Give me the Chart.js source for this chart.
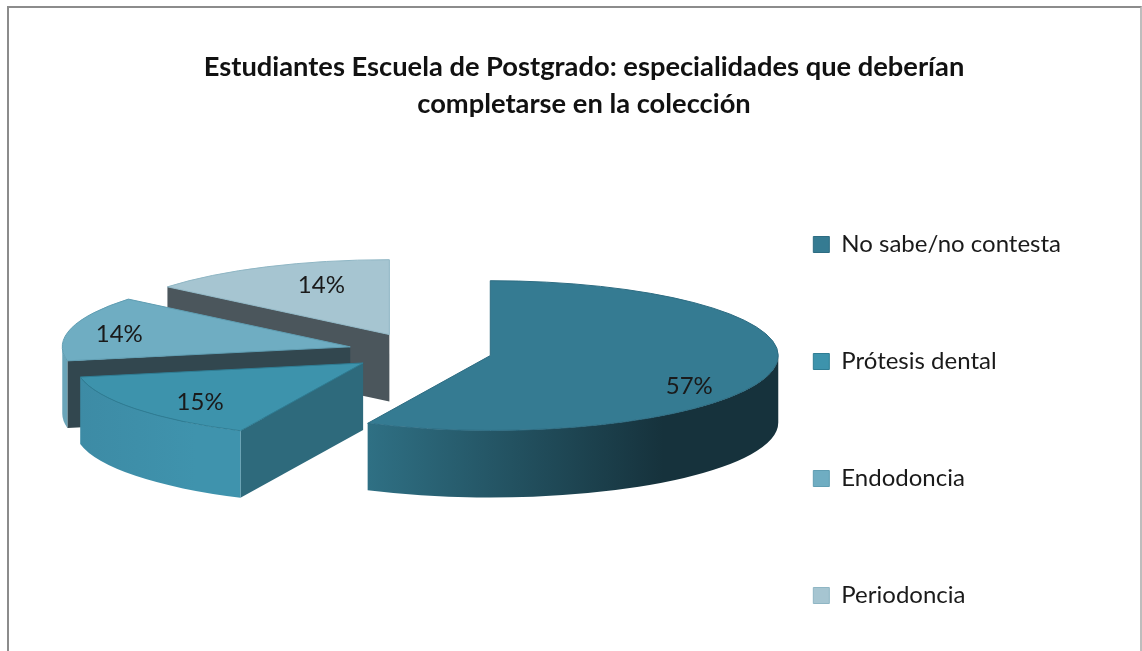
<!DOCTYPE html>
<html>
<head>
<meta charset="utf-8">
<title>Especialidades</title>
<script src="https://cdn.jsdelivr.net/npm/chart.js@4/dist/chart.umd.min.js"></script>
<style>
  html, body { margin: 0; padding: 0; background: #fff; overflow: hidden; }
  #wrap { position: relative; width: 1142px; height: 651px; }
  #frame { position: absolute; left: 7px; top: 6px; width: 1131px; height: 660px;
           border: 2px solid #8c8c8c; border-right-color: #bdbdbd; box-sizing: content-box; }
  canvas { position: absolute; left: 0; top: 0; }
</style>
</head>
<body>
<div id="wrap">
  <canvas id="pie" width="1142" height="651"></canvas>
  <div id="frame"></div>
</div>
<script>
const titleLines = ['Estudiantes Escuela de Postgrado: especialidades que deberían', 'completarse en la colección'];
const categories = ['No sabe/no contesta', 'Prótesis dental', 'Endodoncia', 'Periodoncia'];
const percents = [57, 15, 14, 14];

const topColors = ['#357b92', '#3d93ac', '#6fadc2', '#a6c5d1'];
const edgeColors = ['#2d6c82', '#2f7d94', '#5f9db2', '#8fb6c4'];
const cutColors = ['#2c6577', '#2e6a7c', '#32474f', '#4b565c'];
// outer wall runs left to right between these two colours
const wallColors = [['#2f7084', '#16323c'], ['#3d8ba5', '#3f93ad'], ['#6aa5b9', '#6aa5b9'], ['#a6c5d1', '#a6c5d1']];

// 3D look
const SQUASH = 0.26;
const DEPTH = 67;
const EXPLODE = 72;
const CENTER_X = 420;
const CENTER_Y = 351.5;
const labelOffsets = [[199, 31], [-163, 39], [-231, -13], [-68, -49]];

const FONT = 'Lato, "Open Sans", sans-serif';

function sliceCenter(arc) {
  const mid = (arc.startAngle + arc.endAngle) / 2;
  return {
    x: CENTER_X + EXPLODE * Math.cos(mid),
    y: CENTER_Y + EXPLODE * Math.sin(mid) * SQUASH
  };
}

class Arc3D extends Chart.ArcElement {
  static id = 'arc3d';

  draw(ctx) {
    const i = this.$index;
    const r = this.outerRadius;
    const ry = r * SQUASH;
    const c = sliceCenter(this);
    const a0 = this.startAngle;
    const a1 = this.endAngle;
    const sx = c.x + r * Math.cos(a0);
    const sy = c.y + ry * Math.sin(a0);

    ctx.save();

    // cut face at the start of the slice
    if (Math.cos(a0 + Math.PI / 2) > 0 || Math.sin(a0 + Math.PI / 2) < 0) {
      ctx.beginPath();
      ctx.moveTo(c.x, c.y);
      ctx.lineTo(sx, sy);
      ctx.lineTo(sx, sy + DEPTH);
      ctx.lineTo(c.x, c.y + DEPTH);
      ctx.closePath();
      ctx.fillStyle = cutColors[i];
      ctx.fill();
    }

    // outer wall, only the part facing the viewer
    const w0 = Math.max(a0, 0);
    const w1 = Math.min(a1, Math.PI);
    if (w1 > w0) {
      const left = c.x + r * Math.cos(w1);
      const right = c.x + r * Math.cos(w0);
      const grad = ctx.createLinearGradient(left, 0, left + (right - left) * 0.72, 0);
      grad.addColorStop(0, wallColors[i][0]);
      grad.addColorStop(1, wallColors[i][1]);
      ctx.beginPath();
      ctx.ellipse(c.x, c.y, r, ry, 0, w0, w1);
      ctx.ellipse(c.x, c.y + DEPTH, r, ry, 0, w1, w0, true);
      ctx.closePath();
      ctx.fillStyle = grad;
      ctx.fill();
    }

    // top
    ctx.beginPath();
    ctx.moveTo(c.x, c.y);
    ctx.ellipse(c.x, c.y, r, ry, 0, a0, a1);
    ctx.closePath();
    ctx.fillStyle = this.options.backgroundColor;
    ctx.fill();
    ctx.lineWidth = this.options.borderWidth;
    ctx.strokeStyle = this.options.borderColor;
    ctx.stroke();

    ctx.restore();
  }
}

class Pie3D extends Chart.PieController {
  static id = 'pie3d';
  static defaults = { dataElementType: 'arc3d' };

  draw() {
    const ctx = this.chart.ctx;
    const arcs = this._cachedMeta.data;
    // back to front
    for (let i = arcs.length - 1; i >= 0; i--) {
      arcs[i].$index = i;
      arcs[i].draw(ctx);
    }
    ctx.save();
    ctx.font = '24px ' + FONT;
    ctx.fillStyle = '#1a1a1a';
    ctx.textAlign = 'center';
    ctx.textBaseline = 'middle';
    arcs.forEach((arc, i) => {
      const c = sliceCenter(arc);
      ctx.fillText(percents[i] + '%', c.x + labelOffsets[i][0], c.y + labelOffsets[i][1]);
    });
    ctx.restore();
  }
}

Chart.register(Arc3D, Pie3D);

new Chart(document.getElementById('pie'), {
  type: 'pie3d',
  data: {
    labels: categories,
    datasets: [{
      data: percents,
      backgroundColor: topColors,
      borderColor: edgeColors,
      borderWidth: 1
    }]
  },
  options: {
    responsive: false,
    animation: false,
    radius: 288,
    layout: { padding: { left: 97, right: 71, top: 0, bottom: -189 } },
    plugins: {
      tooltip: { enabled: false },
      title: {
        display: true,
        text: titleLines,
        color: '#111',
        font: { family: FONT, size: 27.3, weight: 'bold', lineHeight: 1.355 },
        padding: { top: 48.5, bottom: -91.5 }
      },
      legend: {
        position: 'right',
        labels: {
          boxWidth: 16,
          boxHeight: 16,
          padding: 93,
          color: '#1a1a1a',
          font: { family: FONT, size: 24 }
        }
      }
    }
  }
});
</script>
</body>
</html>
